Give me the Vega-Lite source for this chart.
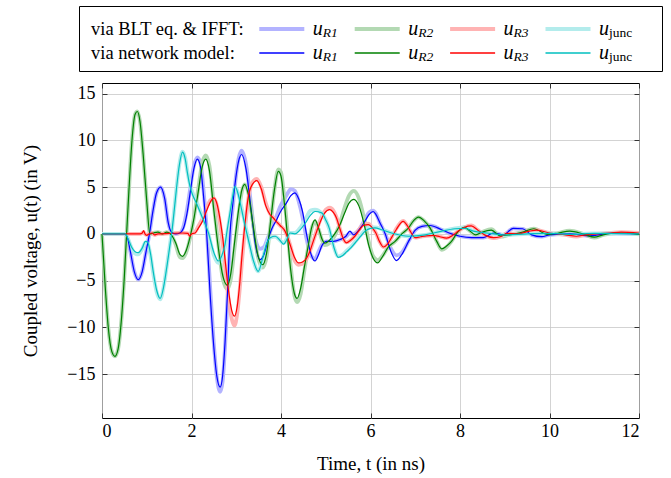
{
  "$schema": "https://vega.github.io/schema/vega-lite/v6.json",
  "autosize": {"type": "pad"},
  "padding": {"left": 21, "top": 5, "right": 4, "bottom": 2},
  "background": "white",
  "bounds": "flush",
  "center": true,
  "spacing": 12,
  "config": {
    "view": {"stroke": "black", "strokeWidth": 1},
    "font": "Liberation Serif",
    "text": {"font": "Liberation Serif", "color": "black"},
    "axis": {"labelFont": "Liberation Serif", "titleFont": "Liberation Serif", "labelFontSize": 18, "titleFontSize": 19, "titleFontWeight": "normal", "labelColor": "black", "titleColor": "black", "tickColor": "#333333", "domain": false, "gridColor": "#c8c8c8", "gridWidth": 0.8}
  },
  "vconcat": [
    {
      "width": 583,
      "height": 65,
      "data": {"values": [
        {"src": "blt", "c": "label", "txt": "via BLT eq. & IFFT:"},
        {"src": "net", "c": "label", "txt": "via network model:"},
        {"src": "blt", "c": "R1", "k": "bR1", "sub": "R1"},
        {"src": "blt", "c": "R2", "k": "bR2", "sub": "R2"},
        {"src": "blt", "c": "R3", "k": "bR3", "sub": "R3"},
        {"src": "blt", "c": "junc", "k": "bjunc", "sub": "junc"},
        {"src": "net", "c": "R1", "k": "nR1", "sub": "R1"},
        {"src": "net", "c": "R2", "k": "nR2", "sub": "R2"},
        {"src": "net", "c": "R3", "k": "nR3", "sub": "R3"},
        {"src": "net", "c": "junc", "k": "njunc", "sub": "junc"}
      ]},
      "encoding": {
        "x": {"field": "c", "type": "nominal", "scale": {"type": "point", "domain": ["label", "gap", "R1", "R2", "R3", "junc"], "range": [12, 489], "padding": 0}, "axis": null},
        "y": {"field": "src", "type": "nominal", "scale": {"type": "point", "domain": ["blt", "net"], "range": [23, 47], "padding": 0}, "axis": null}
      },
      "layer": [
        {"transform": [{"filter": "datum.c === 'label'"}], "mark": {"type": "text", "align": "left", "baseline": "middle", "fontSize": 18.5}, "encoding": {"text": {"field": "txt"}}},
        {"transform": [{"filter": "datum.c !== 'label' && datum.src === 'blt'"}], "mark": {"type": "tick", "orient": "horizontal", "size": 45, "thickness": 3.8, "opacity": 1}, "encoding": {"color": {"field": "k", "type": "nominal", "scale": {"domain": ["bR1", "bR2", "bR3", "bjunc", "nR1", "nR2", "nR3", "njunc"], "range": ["#b3b3ff", "#b3d9b3", "#ffb3b3", "#b3ecec", "#0000ff", "#008000", "#ff0000", "#00bfbf"]}, "legend": null}}},
        {"transform": [{"filter": "datum.c !== 'label' && datum.src === 'net'"}], "mark": {"type": "tick", "orient": "horizontal", "size": 45, "thickness": 1.3, "opacity": 1}, "encoding": {"color": {"field": "k", "type": "nominal", "legend": null}}},
        {"transform": [{"filter": "datum.c !== 'label'"}], "mark": {"type": "text", "align": "left", "baseline": "middle", "fontSize": 20, "fontStyle": "italic", "dx": 31}, "encoding": {"text": {"value": "u"}}},
        {"transform": [{"filter": "datum.c !== 'label' && datum.c !== 'junc'"}], "mark": {"type": "text", "align": "left", "baseline": "middle", "fontSize": 13.5, "fontStyle": "italic", "dx": 41, "dy": 4}, "encoding": {"text": {"field": "sub"}}},
        {"transform": [{"filter": "datum.c === 'junc'"}], "mark": {"type": "text", "align": "left", "baseline": "middle", "fontSize": 13.5, "dx": 41, "dy": 4}, "encoding": {"text": {"field": "sub"}}}
      ]
    },
    {
      "width": 537,
      "height": 335,
      "data": {"values": [
        {"s":"R1","t":0,"n":0,"b":0},{"s":"R1","t":0.5,"n":0,"b":0},{"s":"R1","t":0.56,"n":-0.3,"b":-0.3},{"s":"R1","t":0.63,"n":-1.8,"b":-1.8},{"s":"R1","t":0.72,"n":-4.0,"b":-4.0},{"s":"R1","t":0.81,"n":-4.9,"b":-4.9},{"s":"R1","t":0.9,"n":-4.0,"b":-4.0},{"s":"R1","t":0.98,"n":-2.0,"b":-2.0},{"s":"R1","t":1.06,"n":0,"b":0},{"s":"R1","t":1.14,"n":2.5,"b":2.5},{"s":"R1","t":1.22,"n":4.4,"b":4.4},{"s":"R1","t":1.31,"n":5.0,"b":5.0},{"s":"R1","t":1.4,"n":3.8,"b":3.8},{"s":"R1","t":1.48,"n":1.2,"b":1.2},{"s":"R1","t":1.56,"n":0.15,"b":0.15},{"s":"R1","t":1.65,"n":0,"b":0},{"s":"R1","t":1.74,"n":0.1,"b":0.1},{"s":"R1","t":1.82,"n":0.6,"b":0.8},{"s":"R1","t":1.9,"n":2.2,"b":2.6},{"s":"R1","t":1.97,"n":4.4,"b":4.8},{"s":"R1","t":2.05,"n":6.9,"b":7.2},{"s":"R1","t":2.13,"n":8.0,"b":8.2},{"s":"R1","t":2.2,"n":7.2,"b":7.6},{"s":"R1","t":2.27,"n":4.0,"b":4.6},{"s":"R1","t":2.34,"n":0,"b":0.5},{"s":"R1","t":2.415,"n":-6.3,"b":-5.6},{"s":"R1","t":2.49,"n":-11.6,"b":-11.2},{"s":"R1","t":2.565,"n":-15.2,"b":-15.3},{"s":"R1","t":2.64,"n":-16.4,"b":-16.9},{"s":"R1","t":2.695,"n":-15.2,"b":-15.8},{"s":"R1","t":2.75,"n":-11.6,"b":-12.0},{"s":"R1","t":2.805,"n":-6.3,"b":-6.8},{"s":"R1","t":2.86,"n":0,"b":-0.4},{"s":"R1","t":2.925,"n":3.25,"b":3.0},{"s":"R1","t":2.99,"n":6.0,"b":6.0},{"s":"R1","t":3.055,"n":7.85,"b":8.1},{"s":"R1","t":3.12,"n":8.5,"b":8.9},{"s":"R1","t":3.22,"n":6.9,"b":7.4},{"s":"R1","t":3.325,"n":2.9,"b":3.4},{"s":"R1","t":3.43,"n":-1.2,"b":-0.6},{"s":"R1","t":3.53,"n":-2.75,"b":-1.6},{"s":"R1","t":3.62,"n":-2.2,"b":-1.4},{"s":"R1","t":3.7,"n":-0.8,"b":-0.5},{"s":"R1","t":3.79,"n":0.5,"b":0.6},{"s":"R1","t":3.9,"n":1.5,"b":1.9},{"s":"R1","t":3.98,"n":2.3,"b":2.9},{"s":"R1","t":4.12,"n":3.3,"b":4.1},{"s":"R1","t":4.22,"n":4.1,"b":4.8},{"s":"R1","t":4.31,"n":4.4,"b":4.6},{"s":"R1","t":4.4,"n":3.7,"b":3.4},{"s":"R1","t":4.48,"n":2.4,"b":1.8},{"s":"R1","t":4.57,"n":0,"b":-0.5},{"s":"R1","t":4.66,"n":-2.0,"b":-2.2},{"s":"R1","t":4.76,"n":-2.9,"b":-2.7},{"s":"R1","t":4.84,"n":-2.2,"b":-1.9},{"s":"R1","t":4.91,"n":-1.3,"b":-1.2},{"s":"R1","t":5.02,"n":-0.8,"b":-0.8},{"s":"R1","t":5.17,"n":-0.8,"b":-0.8},{"s":"R1","t":5.32,"n":-0.6,"b":-0.6},{"s":"R1","t":5.45,"n":-0.25,"b":-0.3},{"s":"R1","t":5.54,"n":0.3,"b":0.1},{"s":"R1","t":5.62,"n":-0.1,"b":0},{"s":"R1","t":5.72,"n":0.3,"b":0.3},{"s":"R1","t":5.8,"n":0.8,"b":0.9},{"s":"R1","t":5.88,"n":1.4,"b":1.6},{"s":"R1","t":5.97,"n":2.1,"b":2.3},{"s":"R1","t":6.06,"n":2.4,"b":2.5},{"s":"R1","t":6.12,"n":2.1,"b":2.2},{"s":"R1","t":6.21,"n":1.2,"b":1.2},{"s":"R1","t":6.33,"n":0,"b":0},{"s":"R1","t":6.45,"n":-1.8,"b":-1.5},{"s":"R1","t":6.58,"n":-2.85,"b":-2.3},{"s":"R1","t":6.7,"n":-2.2,"b":-2.0},{"s":"R1","t":6.85,"n":-0.8,"b":-0.8},{"s":"R1","t":7.0,"n":0.4,"b":0.4},{"s":"R1","t":7.15,"n":0.8,"b":0.8},{"s":"R1","t":7.33,"n":0.9,"b":0.9},{"s":"R1","t":7.59,"n":0.45,"b":0.45},{"s":"R1","t":7.81,"n":0,"b":0},{"s":"R1","t":8.0,"n":-0.25,"b":-0.25},{"s":"R1","t":8.26,"n":-0.4,"b":-0.4},{"s":"R1","t":8.52,"n":-0.4,"b":-0.4},{"s":"R1","t":8.75,"n":0.1,"b":0.1},{"s":"R1","t":8.97,"n":-0.1,"b":-0.1},{"s":"R1","t":9.19,"n":0.6,"b":0.6},{"s":"R1","t":9.4,"n":0.55,"b":0.55},{"s":"R1","t":9.6,"n":-0.1,"b":-0.1},{"s":"R1","t":9.83,"n":-0.3,"b":-0.3},{"s":"R1","t":10.0,"n":-0.1,"b":-0.1},{"s":"R1","t":10.46,"n":0,"b":0},{"s":"R1","t":10.9,"n":-0.2,"b":-0.2},{"s":"R1","t":11.35,"n":0.05,"b":0.05},{"s":"R1","t":12,"n":0,"b":0},
        {"s":"R2","t":0,"n":0,"b":0},{"s":"R2","t":0.07,"n":-5.5,"b":-5.5},{"s":"R2","t":0.14,"n":-10,"b":-10},{"s":"R2","t":0.22,"n":-12.6,"b":-12.6},{"s":"R2","t":0.29,"n":-13.1,"b":-13.1},{"s":"R2","t":0.36,"n":-12.3,"b":-12.3},{"s":"R2","t":0.44,"n":-8.8,"b":-8.8},{"s":"R2","t":0.5,"n":-4.5,"b":-4.5},{"s":"R2","t":0.55,"n":0,"b":0},{"s":"R2","t":0.6,"n":4.5,"b":4.5},{"s":"R2","t":0.67,"n":10,"b":10},{"s":"R2","t":0.74,"n":12.8,"b":12.8},{"s":"R2","t":0.79,"n":13.1,"b":13.1},{"s":"R2","t":0.85,"n":12,"b":12},{"s":"R2","t":0.92,"n":8.5,"b":8.5},{"s":"R2","t":1.0,"n":3.5,"b":3.5},{"s":"R2","t":1.07,"n":0,"b":0},{"s":"R2","t":1.15,"n":0.1,"b":0.1},{"s":"R2","t":1.25,"n":0.2,"b":0.2},{"s":"R2","t":1.35,"n":0,"b":0},{"s":"R2","t":1.45,"n":0.2,"b":0.2},{"s":"R2","t":1.55,"n":-0.1,"b":-0.1},{"s":"R2","t":1.65,"n":-1.0,"b":-1.2},{"s":"R2","t":1.74,"n":-2.2,"b":-2.5},{"s":"R2","t":1.8,"n":-2.4,"b":-2.6},{"s":"R2","t":1.88,"n":-1.8,"b":-2.0},{"s":"R2","t":1.97,"n":-0.3,"b":-0.4},{"s":"R2","t":2.06,"n":1.8,"b":1.9},{"s":"R2","t":2.15,"n":4.5,"b":4.8},{"s":"R2","t":2.24,"n":7.2,"b":7.6},{"s":"R2","t":2.32,"n":8.0,"b":8.4},{"s":"R2","t":2.4,"n":6.8,"b":7.3},{"s":"R2","t":2.5,"n":2.5,"b":3.0},{"s":"R2","t":2.6,"n":-1.5,"b":-1.2},{"s":"R2","t":2.7,"n":-4.5,"b":-4.8},{"s":"R2","t":2.8,"n":-5.5,"b":-5.9},{"s":"R2","t":2.88,"n":-4.2,"b":-4.8},{"s":"R2","t":2.96,"n":-1.0,"b":-1.6},{"s":"R2","t":3.05,"n":2.5,"b":2.0},{"s":"R2","t":3.12,"n":4.6,"b":4.4},{"s":"R2","t":3.19,"n":5.3,"b":5.3},{"s":"R2","t":3.27,"n":4.2,"b":4.4},{"s":"R2","t":3.38,"n":0.8,"b":1.0},{"s":"R2","t":3.48,"n":-2.2,"b":-2.4},{"s":"R2","t":3.59,"n":-3.3,"b":-3.6},{"s":"R2","t":3.68,"n":-2.0,"b":-2.4},{"s":"R2","t":3.76,"n":1.0,"b":0.8},{"s":"R2","t":3.85,"n":4.6,"b":4.6},{"s":"R2","t":3.94,"n":6.7,"b":6.9},{"s":"R2","t":4.0,"n":6.2,"b":6.6},{"s":"R2","t":4.07,"n":3.5,"b":4.0},{"s":"R2","t":4.14,"n":0,"b":0.6},{"s":"R2","t":4.22,"n":-4.0,"b":-3.6},{"s":"R2","t":4.3,"n":-6.4,"b":-6.6},{"s":"R2","t":4.36,"n":-6.9,"b":-7.3},{"s":"R2","t":4.44,"n":-5.8,"b":-6.4},{"s":"R2","t":4.52,"n":-3.6,"b":-4.0},{"s":"R2","t":4.6,"n":-1.5,"b":-1.6},{"s":"R2","t":4.68,"n":0.6,"b":0.5},{"s":"R2","t":4.76,"n":1.5,"b":1.3},{"s":"R2","t":4.84,"n":0.6,"b":0.5},{"s":"R2","t":4.92,"n":-0.6,"b":-0.7},{"s":"R2","t":4.98,"n":-1.0,"b":-1.2},{"s":"R2","t":5.08,"n":-0.7,"b":-1.0},{"s":"R2","t":5.2,"n":0,"b":-0.2},{"s":"R2","t":5.3,"n":0.8,"b":0.9},{"s":"R2","t":5.42,"n":2.2,"b":2.8},{"s":"R2","t":5.52,"n":3.3,"b":4.1},{"s":"R2","t":5.63,"n":3.7,"b":4.6},{"s":"R2","t":5.74,"n":3.0,"b":3.8},{"s":"R2","t":5.86,"n":1.0,"b":1.6},{"s":"R2","t":5.96,"n":-1.2,"b":-0.8},{"s":"R2","t":6.06,"n":-2.6,"b":-2.4},{"s":"R2","t":6.16,"n":-3.1,"b":-2.8},{"s":"R2","t":6.26,"n":-2.5,"b":-2.4},{"s":"R2","t":6.4,"n":-1.4,"b":-1.4},{"s":"R2","t":6.55,"n":-0.8,"b":-0.8},{"s":"R2","t":6.7,"n":0,"b":0},{"s":"R2","t":6.85,"n":0.65,"b":0.65},{"s":"R2","t":6.96,"n":1.4,"b":1.4},{"s":"R2","t":7.07,"n":1.8,"b":1.8},{"s":"R2","t":7.2,"n":1.4,"b":1.4},{"s":"R2","t":7.33,"n":0.65,"b":0.65},{"s":"R2","t":7.48,"n":-0.8,"b":-0.8},{"s":"R2","t":7.59,"n":-1.6,"b":-1.7},{"s":"R2","t":7.7,"n":-1.3,"b":-1.4},{"s":"R2","t":7.81,"n":-0.8,"b":-0.8},{"s":"R2","t":7.95,"n":0.2,"b":0.2},{"s":"R2","t":8.1,"n":0.7,"b":0.7},{"s":"R2","t":8.2,"n":0.4,"b":0.4},{"s":"R2","t":8.35,"n":-0.1,"b":-0.1},{"s":"R2","t":8.5,"n":0.2,"b":0.2},{"s":"R2","t":8.7,"n":0.4,"b":0.5},{"s":"R2","t":8.9,"n":-0.2,"b":-0.3},{"s":"R2","t":9.1,"n":-0.1,"b":-0.1},{"s":"R2","t":9.4,"n":0.2,"b":0.2},{"s":"R2","t":9.65,"n":0.55,"b":0.55},{"s":"R2","t":9.95,"n":-0.05,"b":-0.05},{"s":"R2","t":10.2,"n":0.1,"b":0.1},{"s":"R2","t":10.45,"n":0.3,"b":0.35},{"s":"R2","t":10.75,"n":0,"b":0},{"s":"R2","t":11.0,"n":-0.35,"b":-0.4},{"s":"R2","t":11.2,"n":-0.1,"b":-0.1},{"s":"R2","t":11.5,"n":0.1,"b":0.1},{"s":"R2","t":11.8,"n":0.05,"b":0.05},{"s":"R2","t":12,"n":-0.05,"b":-0.05},
        {"s":"R3","t":0,"n":0,"b":0},{"s":"R3","t":0.85,"n":0,"b":0},{"s":"R3","t":0.9,"n":0.1,"b":0.1},{"s":"R3","t":0.93,"n":0.35,"b":0.2},{"s":"R3","t":0.96,"n":0,"b":0},{"s":"R3","t":1.0,"n":-0.15,"b":-0.1},{"s":"R3","t":1.05,"n":0,"b":0},{"s":"R3","t":1.12,"n":0.1,"b":0.1},{"s":"R3","t":1.17,"n":-0.1,"b":-0.1},{"s":"R3","t":1.25,"n":0,"b":0},{"s":"R3","t":1.5,"n":0.05,"b":0.05},{"s":"R3","t":1.8,"n":0.1,"b":0.1},{"s":"R3","t":1.92,"n":0.05,"b":0.05},{"s":"R3","t":1.96,"n":-0.25,"b":-0.1},{"s":"R3","t":2.0,"n":0,"b":0},{"s":"R3","t":2.08,"n":0.1,"b":0.2},{"s":"R3","t":2.15,"n":0.6,"b":0.8},{"s":"R3","t":2.25,"n":1.4,"b":1.7},{"s":"R3","t":2.33,"n":2.4,"b":2.7},{"s":"R3","t":2.42,"n":3.4,"b":3.6},{"s":"R3","t":2.5,"n":3.85,"b":3.8},{"s":"R3","t":2.57,"n":3.2,"b":3.0},{"s":"R3","t":2.64,"n":1.5,"b":1.0},{"s":"R3","t":2.7,"n":-0.5,"b":-1.2},{"s":"R3","t":2.75,"n":-2.75,"b":-3.4},{"s":"R3","t":2.82,"n":-5.8,"b":-6.6},{"s":"R3","t":2.9,"n":-8.2,"b":-9.1},{"s":"R3","t":2.96,"n":-8.8,"b":-9.8},{"s":"R3","t":3.02,"n":-7.8,"b":-8.6},{"s":"R3","t":3.08,"n":-5.2,"b":-5.8},{"s":"R3","t":3.13,"n":-2.2,"b":-2.8},{"s":"R3","t":3.2,"n":1.3,"b":0.8},{"s":"R3","t":3.27,"n":4.0,"b":3.8},{"s":"R3","t":3.36,"n":5.3,"b":5.5},{"s":"R3","t":3.46,"n":5.7,"b":5.9},{"s":"R3","t":3.56,"n":4.8,"b":5.0},{"s":"R3","t":3.66,"n":3.0,"b":3.3},{"s":"R3","t":3.75,"n":2.1,"b":2.2},{"s":"R3","t":3.83,"n":1.7,"b":1.7},{"s":"R3","t":3.92,"n":1.2,"b":1.2},{"s":"R3","t":3.98,"n":0.9,"b":0.9},{"s":"R3","t":4.09,"n":0.3,"b":0.3},{"s":"R3","t":4.2,"n":-1.1,"b":-1.1},{"s":"R3","t":4.3,"n":-2.5,"b":-2.8},{"s":"R3","t":4.39,"n":-3.1,"b":-3.3},{"s":"R3","t":4.48,"n":-3.0,"b":-3.2},{"s":"R3","t":4.57,"n":-2.6,"b":-2.7},{"s":"R3","t":4.65,"n":-1.8,"b":-1.8},{"s":"R3","t":4.72,"n":-0.8,"b":-0.8},{"s":"R3","t":4.8,"n":0.3,"b":0.4},{"s":"R3","t":4.87,"n":1.2,"b":1.4},{"s":"R3","t":4.97,"n":2.2,"b":2.4},{"s":"R3","t":5.09,"n":2.6,"b":2.8},{"s":"R3","t":5.17,"n":2.3,"b":2.5},{"s":"R3","t":5.24,"n":1.7,"b":1.8},{"s":"R3","t":5.32,"n":0.5,"b":0.5},{"s":"R3","t":5.39,"n":-0.5,"b":-0.5},{"s":"R3","t":5.46,"n":-0.95,"b":-0.9},{"s":"R3","t":5.55,"n":-0.7,"b":-0.7},{"s":"R3","t":5.65,"n":-0.25,"b":-0.2},{"s":"R3","t":5.75,"n":0.4,"b":0.5},{"s":"R3","t":5.84,"n":0.9,"b":1.0},{"s":"R3","t":5.95,"n":1.0,"b":1.1},{"s":"R3","t":6.05,"n":0.6,"b":0.6},{"s":"R3","t":6.12,"n":0.1,"b":0.1},{"s":"R3","t":6.2,"n":-0.8,"b":-0.8},{"s":"R3","t":6.29,"n":-1.4,"b":-1.4},{"s":"R3","t":6.38,"n":-1.1,"b":-1.1},{"s":"R3","t":6.47,"n":-0.4,"b":-0.4},{"s":"R3","t":6.58,"n":0.5,"b":0.6},{"s":"R3","t":6.73,"n":1.35,"b":1.4},{"s":"R3","t":6.82,"n":0.9,"b":0.9},{"s":"R3","t":6.9,"n":0.2,"b":0.2},{"s":"R3","t":7.0,"n":-0.4,"b":-0.4},{"s":"R3","t":7.12,"n":-0.3,"b":-0.3},{"s":"R3","t":7.25,"n":-0.2,"b":-0.2},{"s":"R3","t":7.4,"n":-0.15,"b":-0.15},{"s":"R3","t":7.55,"n":-0.3,"b":-0.3},{"s":"R3","t":7.7,"n":-0.45,"b":-0.45},{"s":"R3","t":7.85,"n":-0.1,"b":-0.1},{"s":"R3","t":7.96,"n":0.3,"b":0.3},{"s":"R3","t":8.1,"n":0.7,"b":0.7},{"s":"R3","t":8.25,"n":0.85,"b":0.9},{"s":"R3","t":8.4,"n":0.4,"b":0.4},{"s":"R3","t":8.55,"n":-0.1,"b":-0.1},{"s":"R3","t":8.75,"n":-0.4,"b":-0.45},{"s":"R3","t":8.9,"n":-0.3,"b":-0.3},{"s":"R3","t":9.05,"n":0.05,"b":0.05},{"s":"R3","t":9.3,"n":0,"b":0},{"s":"R3","t":9.55,"n":0.3,"b":0.3},{"s":"R3","t":9.72,"n":0.4,"b":0.4},{"s":"R3","t":10.0,"n":0.1,"b":0.1},{"s":"R3","t":10.35,"n":-0.1,"b":-0.1},{"s":"R3","t":10.6,"n":-0.25,"b":-0.3},{"s":"R3","t":10.8,"n":-0.1,"b":-0.1},{"s":"R3","t":11.05,"n":0,"b":0},{"s":"R3","t":11.35,"n":0.1,"b":0.1},{"s":"R3","t":11.6,"n":0.2,"b":0.2},{"s":"R3","t":12,"n":0.1,"b":0.1},
        {"s":"junc","t":0,"n":0,"b":0},{"s":"junc","t":0.52,"n":0,"b":0},{"s":"junc","t":0.58,"n":-0.5,"b":-0.5},{"s":"junc","t":0.66,"n":-1.4,"b":-1.5},{"s":"junc","t":0.74,"n":-1.9,"b":-2.1},{"s":"junc","t":0.81,"n":-2.0,"b":-2.2},{"s":"junc","t":0.9,"n":-1.5,"b":-1.6},{"s":"junc","t":0.97,"n":-0.8,"b":-0.9},{"s":"junc","t":1.02,"n":-0.9,"b":-1.0},{"s":"junc","t":1.08,"n":-2.0,"b":-2.2},{"s":"junc","t":1.15,"n":-4.2,"b":-4.4},{"s":"junc","t":1.22,"n":-6.0,"b":-6.2},{"s":"junc","t":1.3,"n":-6.9,"b":-7.0},{"s":"junc","t":1.38,"n":-5.6,"b":-5.6},{"s":"junc","t":1.45,"n":-3.5,"b":-3.4},{"s":"junc","t":1.51,"n":-1.5,"b":-1.4},{"s":"junc","t":1.56,"n":0.2,"b":0.3},{"s":"junc","t":1.62,"n":2.8,"b":2.9},{"s":"junc","t":1.67,"n":5.1,"b":5.2},{"s":"junc","t":1.73,"n":7.4,"b":7.5},{"s":"junc","t":1.8,"n":8.75,"b":8.8},{"s":"junc","t":1.86,"n":8.0,"b":8.1},{"s":"junc","t":1.91,"n":6.5,"b":6.6},{"s":"junc","t":1.97,"n":5.0,"b":5.2},{"s":"junc","t":2.04,"n":4.0,"b":4.2},{"s":"junc","t":2.1,"n":3.4,"b":3.6},{"s":"junc","t":2.23,"n":1.9,"b":2.0},{"s":"junc","t":2.38,"n":0.1,"b":0.0},{"s":"junc","t":2.5,"n":-2.0,"b":-2.3},{"s":"junc","t":2.6,"n":-2.9,"b":-3.1},{"s":"junc","t":2.68,"n":-2.3,"b":-2.6},{"s":"junc","t":2.75,"n":-1.1,"b":-1.4},{"s":"junc","t":2.8,"n":0.5,"b":0.2},{"s":"junc","t":2.86,"n":2.25,"b":2.0},{"s":"junc","t":2.92,"n":4.0,"b":3.9},{"s":"junc","t":2.97,"n":5.1,"b":5.0},{"s":"junc","t":3.04,"n":4.3,"b":4.4},{"s":"junc","t":3.12,"n":2.6,"b":2.8},{"s":"junc","t":3.2,"n":0.8,"b":1.0},{"s":"junc","t":3.27,"n":-0.6,"b":-0.5},{"s":"junc","t":3.38,"n":-2.8,"b":-2.8},{"s":"junc","t":3.49,"n":-4.0,"b":-4.0},{"s":"junc","t":3.6,"n":-2.4,"b":-2.5},{"s":"junc","t":3.68,"n":-1.0,"b":-1.1},{"s":"junc","t":3.76,"n":-0.4,"b":-0.4},{"s":"junc","t":3.87,"n":-0.25,"b":-0.3},{"s":"junc","t":3.98,"n":-0.7,"b":-0.7},{"s":"junc","t":4.06,"n":-1.1,"b":-1.0},{"s":"junc","t":4.12,"n":-0.7,"b":-0.6},{"s":"junc","t":4.2,"n":0.1,"b":0.1},{"s":"junc","t":4.31,"n":0.0,"b":0.1},{"s":"junc","t":4.42,"n":0.4,"b":0.6},{"s":"junc","t":4.55,"n":1.2,"b":1.6},{"s":"junc","t":4.66,"n":2.0,"b":2.5},{"s":"junc","t":4.76,"n":2.4,"b":2.6},{"s":"junc","t":4.91,"n":2.25,"b":2.2},{"s":"junc","t":5.0,"n":1.5,"b":1.5},{"s":"junc","t":5.08,"n":0.6,"b":0.5},{"s":"junc","t":5.18,"n":-1.4,"b":-1.4},{"s":"junc","t":5.28,"n":-2.5,"b":-2.4},{"s":"junc","t":5.38,"n":-2.3,"b":-2.2},{"s":"junc","t":5.47,"n":-1.9,"b":-1.8},{"s":"junc","t":5.56,"n":-1.5,"b":-1.4},{"s":"junc","t":5.65,"n":-1.0,"b":-0.9},{"s":"junc","t":5.77,"n":-0.3,"b":-0.2},{"s":"junc","t":5.88,"n":0.3,"b":0.4},{"s":"junc","t":6.0,"n":0.6,"b":0.7},{"s":"junc","t":6.1,"n":0.65,"b":0.7},{"s":"junc","t":6.25,"n":0.45,"b":0.5},{"s":"junc","t":6.47,"n":0.1,"b":0.1},{"s":"junc","t":6.85,"n":-0.25,"b":-0.25},{"s":"junc","t":7.22,"n":-0.1,"b":-0.1},{"s":"junc","t":7.59,"n":0.3,"b":0.3},{"s":"junc","t":7.89,"n":0.55,"b":0.6},{"s":"junc","t":8.11,"n":0.6,"b":0.7},{"s":"junc","t":8.3,"n":0.3,"b":0.3},{"s":"junc","t":8.6,"n":0.1,"b":0.1},{"s":"junc","t":9.0,"n":-0.1,"b":-0.1},{"s":"junc","t":9.5,"n":0,"b":0},{"s":"junc","t":10.0,"n":0.05,"b":0.05},{"s":"junc","t":10.5,"n":-0.05,"b":-0.05},{"s":"junc","t":11.0,"n":0.05,"b":0.05},{"s":"junc","t":12,"n":0,"b":0}
      ]},
      "layer": [
        {
          "mark": {"type": "line", "interpolate": "monotone", "strokeWidth": 3.8},
          "encoding": {
            "x": {"field": "t", "type": "quantitative", "scale": {"domain": [0, 12], "nice": false, "zero": false}, "axis": {"orient": "bottom", "values": [0, 2, 4, 6, 8, 10, 12], "title": "Time, t (in ns)", "grid": true, "tickSize": -5, "labelPadding": 9, "titlePadding": 14}},
            "y": {"field": "b", "type": "quantitative", "scale": {"domain": [-19.7, 16.15], "nice": false, "zero": false}, "axis": {"orient": "left", "values": [-15, -10, -5, 0, 5, 10, 15], "title": "Coupled voltage, u(t) (in V)", "grid": true, "tickSize": -5, "labelPadding": 12, "titlePadding": 26}},
            "color": {"field": "s", "type": "nominal", "scale": {"domain": ["R1", "R2", "R3", "junc"], "range": ["#b3b3ff", "#b3d9b3", "#ffb3b3", "#b3ecec"]}, "legend": null}
          }
        },
        {
          "mark": {"type": "line", "interpolate": "monotone", "strokeWidth": 1.2},
          "encoding": {
            "x": {"field": "t", "type": "quantitative", "scale": {"domain": [0, 12], "nice": false, "zero": false}, "axis": {"orient": "top", "values": [0, 2, 4, 6, 8, 10, 12], "title": null, "labels": false, "grid": false, "tickSize": -5}},
            "y": {"field": "n", "type": "quantitative", "scale": {"domain": [-19.7, 16.15], "nice": false, "zero": false}, "axis": {"orient": "right", "values": [-15, -10, -5, 0, 5, 10, 15], "title": null, "labels": false, "grid": false, "tickSize": -5}},
            "color": {"field": "s", "type": "nominal", "scale": {"domain": ["R1", "R2", "R3", "junc"], "range": ["#0000ff", "#008000", "#ff0000", "#00bfbf"]}, "legend": null}
          }
        }
      ],
      "resolve": {"scale": {"color": "independent"}, "axis": {"x": "independent", "y": "independent"}}
    }
  ]
}
